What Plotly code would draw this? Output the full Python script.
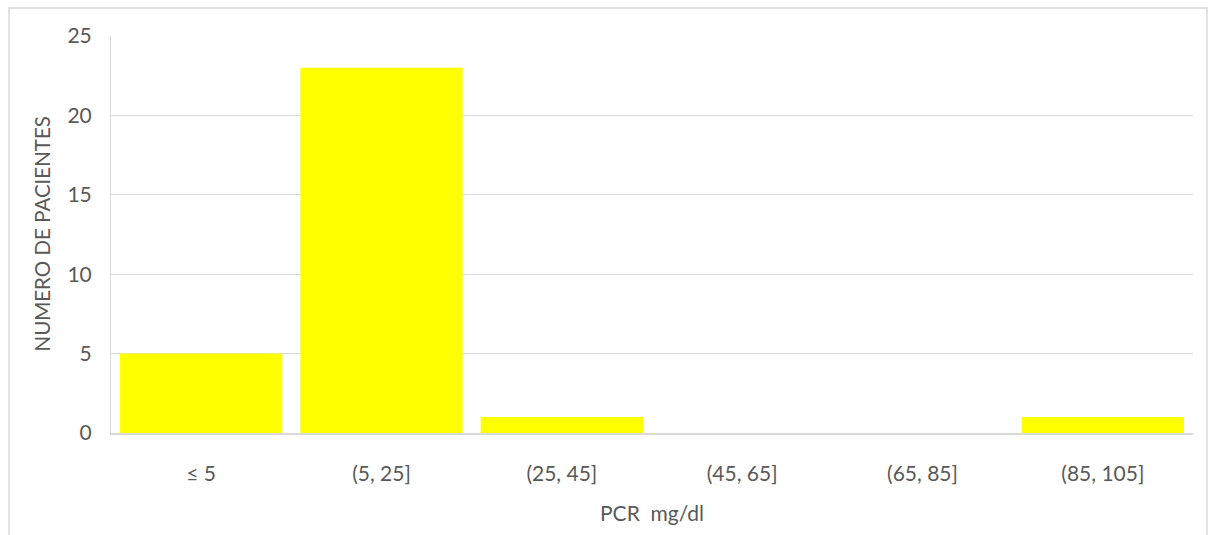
import plotly.graph_objects as go

categories = ["≤ 5", "(5, 25]", "(25, 45]", "(45, 65]", "(65, 85]", "(85, 105]"]
pacientes = [5, 23, 1, 0, 0, 1]
y_ticks = [0, 5, 10, 15, 20, 25]
x_title = "PCR  mg/dl"
y_title = "NUMERO DE PACIENTES"

W, H = 1210, 535
L, R, T, B = 111, 17, 36, 102
pw, ph = W - L - R, H - T - B

def px_x(p):
    return (p - L) / pw

def px_y(p):
    return (H - B - p) / ph

fig = go.Figure(go.Bar(x=categories, y=pacientes, marker=dict(color="#FFFF00", line=dict(width=0))))

font = "Lato, Open Sans, sans-serif"
grey = "#595959"
fs = 21
fig.update_layout(
    width=W, height=H,
    margin=dict(l=L, r=R, t=T, b=B),
    paper_bgcolor="white", plot_bgcolor="white",
    bargap=0.1,
    showlegend=False,
    font=dict(family=font, color=grey, size=fs),
    xaxis=dict(
        showgrid=False, showline=True, linecolor="#d9d9d9", linewidth=1.5,
        ticks="", ticklabelstandoff=21, tickfont=dict(size=fs, color=grey),
    ),
    yaxis=dict(
        range=[0, 25], tickvals=y_ticks, showgrid=True, gridcolor="#d9d9d9", gridwidth=1,
        showline=True, linecolor="#d9d9d9", linewidth=1, zeroline=False,
        ticks="", ticklabelstandoff=14, tickfont=dict(size=fs, color=grey),
    ),
    annotations=[
        dict(text=x_title, xref="paper", yref="paper", x=0.5, y=px_y(512),
             xanchor="center", yanchor="middle", showarrow=False,
             font=dict(size=fs, color=grey)),
        dict(text=y_title, xref="paper", yref="paper", x=px_x(41), y=0.5,
             xanchor="center", yanchor="middle", textangle=-90, showarrow=False,
             font=dict(size=20.5, color=grey)),
    ],
    shapes=[dict(type="rect", xref="paper", yref="paper",
                 x0=px_x(9), x1=px_x(1207), y0=px_y(560), y1=px_y(8),
                 line=dict(color="#d9d9d9", width=1.5), fillcolor="rgba(0,0,0,0)", layer="below")],
)

fig.write_html("out.html", config={"displayModeBar": False},
               post_script="document.body.style.margin='0';document.body.style.overflow='hidden';")
